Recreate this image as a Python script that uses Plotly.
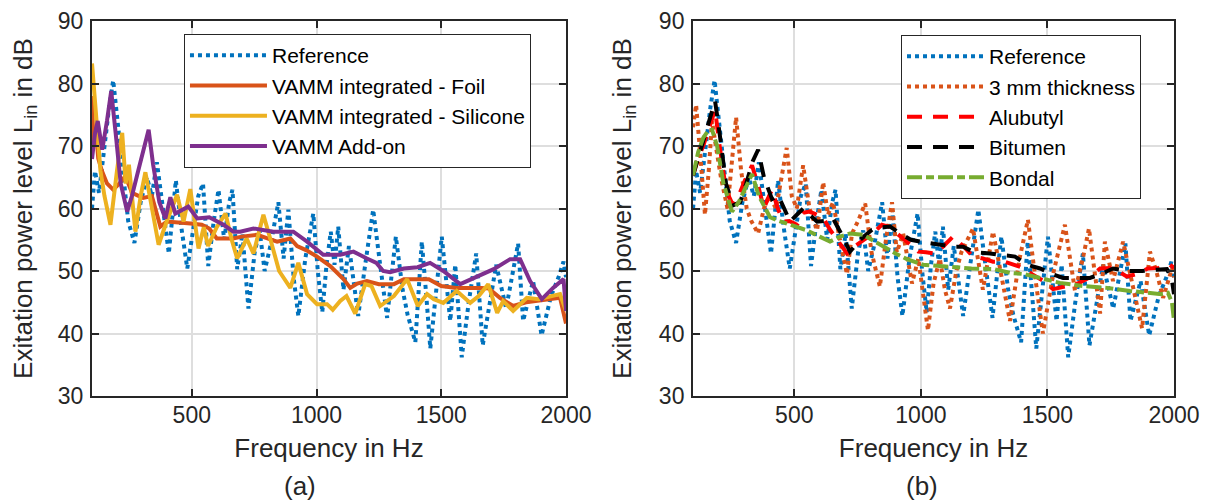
import plotly.graph_objects as go

# ---------------- data ----------------
# Reference (same measurement in both panels)
ref_freq = [100, 112, 128, 150, 168, 185, 205, 222, 245, 270, 295, 320, 340, 360, 385, 408, 436, 458, 482,
            505, 526, 545, 566, 588, 607, 630, 650, 663, 682, 703, 727, 752, 772, 792, 815, 847, 868, 887,
            908, 927, 955, 987, 1005, 1023, 1040, 1057, 1072, 1087, 1108, 1130, 1148, 1167, 1195, 1227,
            1255, 1283, 1300, 1318, 1345, 1365, 1396, 1422, 1440, 1456, 1480, 1502, 1536, 1556, 1582,
            1610, 1640, 1666, 1695, 1720, 1760, 1790, 1808, 1828, 1868, 1902, 1940, 1970, 1990, 2000]
ref_level = [60, 66, 62.5, 70, 76, 80.5, 73, 65.5, 58, 54.5, 61, 65, 62, 67.4, 60, 52.8, 64.5, 57, 50.4,
             57, 62, 64, 50.8, 58, 63, 55, 61, 63, 50.3, 56, 44, 53, 56.5, 50, 54, 61, 52, 59.8,
             49, 42.8, 52, 59.2, 50, 43.4, 51, 56.3, 51, 57.1, 47, 54, 48, 42.8, 51, 59.8,
             51, 42.5, 49, 55.5, 47, 43, 38.6, 54.7, 46, 37.6, 47, 55.5, 42, 51, 36.2,
             45, 52.8, 38.1, 45, 51, 44, 50, 54.4, 42, 48.4, 39.7, 46, 49, 51.5, 49]

# (a) VAMM integrated - Foil
foil_freq = [100, 106, 115, 125, 140, 160, 185, 210, 234, 260, 282, 305, 340, 374, 400, 450, 495, 540,
             570, 600, 666, 700, 762, 842, 895, 922, 960, 1002, 1055, 1108, 1135, 1163, 1202, 1250,
             1310, 1350, 1450, 1500, 1560, 1660, 1690, 1735, 1788, 1840, 1895, 1976, 2000]
foil_level = [78, 70, 73, 68, 66, 64, 63, 64, 65.2, 62.5, 62.1, 61.7, 62, 57.1, 57.9, 57.8, 57.6, 57.4,
              56.8, 55.2, 55.2, 55.5, 55.8, 54.7, 55.2, 54.0, 53.3, 52.3, 50.8, 48.7, 47.3, 48, 48.4, 47.9,
              47.9, 48.7, 48.7, 47.6, 47.3, 47.3, 47.2, 45.7, 44.4, 45, 45.3, 45.7, 41.6]

# (a) VAMM integrated - Silicone
silicone_freq = [100, 110, 122, 134, 150, 174, 200, 221, 235, 248, 274, 295, 314, 340, 367, 400, 420, 441,
                 467, 494, 527, 548, 565, 600, 635, 660, 682, 720, 747, 787, 810, 850, 895, 927, 962,
                 1002, 1042, 1065, 1095, 1120, 1155, 1195, 1220, 1255, 1310, 1363, 1406, 1443, 1470,
                 1508, 1562, 1616, 1650, 1688, 1724, 1748, 1788, 1843, 1890, 1940, 1976, 2000]
silicone_level = [83.2, 78, 72, 66, 62, 57.4, 66, 72.1, 64, 67, 56.3, 62, 65.8, 60, 54.2, 58, 60, 62.2,
                  57.9, 63.1, 53.6, 57, 54, 57, 59.2, 55, 52, 55.2, 52.8, 59, 55.8, 50, 47.3, 51.3, 46.3,
                  44.7, 44.7, 43.8, 45.2, 46, 43.2, 47.9, 47.6, 44.4, 46, 48.7, 44.4, 46.3, 45.5,
                  44.9, 46.8, 44.9, 46, 47.9, 43.3, 45.2, 43.6, 45.7, 45.5, 46, 46.3, 43.6]

# (a) VAMM Add-on
addon_freq = [100, 112, 123, 141, 160, 177, 195, 215, 241, 260, 285, 310, 327, 345, 370, 394, 414, 434,
              460, 486, 522, 570, 627, 667, 694, 747, 827, 907, 962, 1027, 1095, 1148, 1202, 1240,
              1267, 1295, 1350, 1405, 1455, 1508, 1576, 1630, 1710, 1776, 1816, 1856, 1903, 1948,
              1990, 2000]
addon_level = [67.9, 72, 74, 69.4, 74, 78.8, 72, 64, 59.5, 62, 66, 70, 72.6, 67, 61, 58.4, 61.8, 59.2,
               59.8, 60.3, 58.4, 58.6, 57.4, 56.3, 56.3, 56.8, 56.3, 56.3, 54.7, 52.6, 52.6, 53.1, 52, 51.3,
               50, 49.8, 50.4, 50.6, 51.3, 50, 47.9, 48.9, 50.3, 51.9, 51.9, 48.4, 45.5, 47.3,
               48.7, 43.6]

# (b) 3 mm thickness
thick_freq = [100, 112, 130, 147, 162, 175, 190, 210, 236, 255, 270, 290, 312, 330, 357, 380, 400, 428,
              450, 470, 490, 510, 535, 560, 590, 614, 633, 653, 680, 708, 728, 752, 780, 805, 838,
              862, 886, 905, 930, 965, 990, 1010, 1028, 1050, 1075, 1095, 1115, 1140, 1160, 1206,
              1245, 1285, 1315, 1352, 1390, 1423, 1455, 1482, 1525, 1569, 1609, 1640, 1664, 1708,
              1727, 1759, 1799, 1840, 1874, 1905, 1930, 1957, 1992, 2000]
thick_level = [73, 76.6, 68, 59, 66, 74, 70, 65, 60, 68, 74.6, 66, 60, 58, 56, 60, 62, 60,
               65, 69.7, 62, 60, 66.9, 60, 56.5, 64.2, 59, 61, 55, 49.5, 56, 58, 60.8, 53, 47.5,
               55, 61, 53, 56, 48, 52, 46, 40.5, 48, 52, 47, 44, 50, 53, 56.8,
               47, 56.3, 50, 42, 52, 58.2, 48, 40, 50, 57.4, 46.8, 52, 56.8, 43.2,
               54.7, 48.4, 54.7, 47, 40.8, 53.1, 50, 45.7, 50.4, 49]

# (b) Alubutyl
alubutyl_freq = [100, 120, 140, 165, 187, 205, 230, 258, 280, 305, 333, 355, 380, 400, 412, 435, 455, 480,
                 511, 535, 560, 590, 615, 641, 670, 708, 740, 772, 810, 846, 880, 906, 958, 990, 1020,
                 1056, 1090, 1127, 1167, 1206, 1245, 1285, 1330, 1372, 1405, 1439, 1480, 1522, 1560,
                 1620, 1668, 1708, 1759, 1814, 1850, 1897, 1940, 1984, 2000]
alubutyl_level = [65.3, 68, 70, 73, 75.8, 70, 63, 60.5, 62, 64.5, 66.9, 64, 60, 62, 63, 60, 57.9, 58,
                  57.4, 59.3, 59.5, 59, 58.5, 56.6, 55, 52.8, 54, 55, 56, 57.4, 57, 56, 54.2, 53.1, 53,
                  52.8, 54, 55.5, 54, 52.3, 52, 51.5, 51.5, 51, 50.5, 49.5, 48.5, 47.1, 47.5,
                  48, 49, 50.4, 50.5, 49.1, 49.5, 50.4, 50.5, 51, 50.5]

# (b) Bitumen
bitumen_freq = [100, 120, 145, 165, 187, 205, 230, 258, 286, 310, 335, 357, 380, 412, 436, 460, 483, 510,
                535, 560, 590, 620, 653, 685, 720, 760, 807, 845, 878, 920, 960, 997, 1030, 1064, 1100,
                1127, 1167, 1210, 1273, 1320, 1372, 1420, 1471, 1520, 1562, 1620, 1668, 1710, 1759,
                1814, 1874, 1930, 1972, 1990, 2000]
bitumen_level = [65.3, 68, 71, 74, 77.2, 72, 64, 60.5, 61, 64, 67.5, 69.4, 65, 61.5, 62.1, 60, 57.9, 59,
                 60, 59, 57.9, 58, 58.4, 56, 53.1, 55, 56.6, 57, 57.1, 56, 55, 54.7, 54.5, 54.2, 54,
                 53.9, 53.9, 53, 52.8, 52.5, 52.3, 51, 50.4, 49.5, 48.9, 48.9, 48.9, 49.5, 50.4,
                 50, 50, 50.2, 50.3, 49, 46.3]

# (b) Bondal
bondal_freq = [100, 120, 140, 160, 175, 195, 220, 254, 280, 313, 333, 360, 404, 440, 483, 550, 600, 641,
               680, 720, 772, 850, 900, 945, 1009, 1076, 1143, 1200, 1290, 1352, 1410, 1471, 1549,
               1641, 1735, 1826, 1905, 1950, 1976, 1992, 2000]
bondal_level = [65.3, 69, 71.3, 72.5, 72.6, 70, 64, 59.5, 61, 63.8, 65.5, 62, 58.6, 58, 57.4, 56.5, 55.5, 54.7,
                55.5, 56, 55.8, 53.9, 52.8, 51.9, 51, 50.8, 50.6, 50.4, 50.3, 49.7, 49.5, 48.9, 48.1,
                47.6, 47.3, 46.8, 46.5, 46.3, 46.5, 45, 42]

x_ticks = [500, 1000, 1500, 2000]
y_ticks = [30, 40, 50, 60, 70, 80, 90]

# ---------------- styles ----------------
BLUE = "#0072BD"
ORANGE = "#D95319"
YELLOW = "#EDB120"
PURPLE = "#7E2F8E"
RED = "#FF0000"
BLACK = "#000000"
GREEN = "#77AC30"
FONT = "Liberation Sans, Arial, sans-serif"
AX = "#262626"

fig = go.Figure()


def add(xs, ys, name, color, dash, xa, ya, leg, width=4):
    fig.add_trace(go.Scatter(
        x=xs, y=ys, name=name, mode="lines",
        line=dict(color=color, width=width, dash=dash),
        xaxis=xa, yaxis=ya, legend=leg, hoverinfo="skip"))


# panel (a)
add(ref_freq, ref_level, "Reference", BLUE, "dot", "x", "y", "legend")
add(foil_freq, foil_level, "VAMM integrated - Foil", ORANGE, "solid", "x", "y", "legend")
add(silicone_freq, silicone_level, "VAMM integrated - Silicone", YELLOW, "solid", "x", "y", "legend")
add(addon_freq, addon_level, "VAMM Add-on", PURPLE, "solid", "x", "y", "legend")

# panel (b)
add(ref_freq, ref_level, "Reference", BLUE, "dot", "x2", "y2", "legend2")
add(thick_freq, thick_level, "3 mm thickness", ORANGE, "dot", "x2", "y2", "legend2")
add(alubutyl_freq, alubutyl_level, "Alubutyl", RED, "15px,11px", "x2", "y2", "legend2")
add(bitumen_freq, bitumen_level, "Bitumen", BLACK, "15px,11px", "x2", "y2", "legend2")
add(bondal_freq, bondal_level, "Bondal", GREEN, "15px,4px,8px,4px", "x2", "y2", "legend2")

axis_common = dict(
    showline=True, linecolor=AX, linewidth=2, mirror="ticks",
    ticks="inside", ticklen=7, tickwidth=2, tickcolor=AX,
    showgrid=True, gridcolor="#dedede", gridwidth=1.5, zeroline=False,
    tickfont=dict(family=FONT, size=23, color=AX),
    title_font=dict(family=FONT, size=26, color=AX),
    automargin=False, ticklabeloverflow="allow",
)

ytitle = "Exitation power level L<sub>in</sub> in dB"
xtitle = "Frequency in Hz"

legend_common = dict(
    xanchor="left", yanchor="top", bgcolor="white",
    bordercolor=AX, borderwidth=1,
    font=dict(family=FONT, size=21, color="#000000"),
    itemwidth=77, tracegroupgap=0,
)

# the page body adds an 8px offset, so the figure is 8px smaller than the window
fig.update_layout(
    width=1200, height=494,
    margin=dict(l=84, r=34, t=13, b=106),
    paper_bgcolor="white", plot_bgcolor="white",
    showlegend=True,
    xaxis=dict(domain=[0, 0.4381], range=[100, 2000], tickvals=x_ticks, anchor="y",
               ticklabelstandoff=-3, title=dict(text=xtitle, standoff=12), **axis_common),
    yaxis=dict(domain=[0, 1], range=[30, 90], tickvals=y_ticks, anchor="x",
               ticklabelstandoff=2, title=dict(text=ytitle, standoff=20), **axis_common),
    xaxis2=dict(domain=[0.5555, 1], range=[100, 2000], tickvals=x_ticks, anchor="y2",
                ticklabelstandoff=-3, title=dict(text=xtitle, standoff=12), **axis_common),
    yaxis2=dict(domain=[0, 1], range=[30, 90], tickvals=y_ticks, anchor="x2",
                ticklabelstandoff=2, title=dict(text=ytitle, standoff=20), **axis_common),
    legend=dict(x=0.085, y=0.9653, **legend_common),
    legend2=dict(x=0.7477, y=0.9627, **legend_common),
    annotations=[
        dict(text="(a)", x=0.1922, y=-0.24, xref="paper", yref="paper",
             xanchor="center", yanchor="middle", showarrow=False,
             font=dict(family=FONT, size=26, color=AX)),
        dict(text="(b)", x=0.7671, y=-0.24, xref="paper", yref="paper",
             xanchor="center", yanchor="middle", showarrow=False,
             font=dict(family=FONT, size=26, color=AX)),
    ],
)

fig.write_html("out.html")
